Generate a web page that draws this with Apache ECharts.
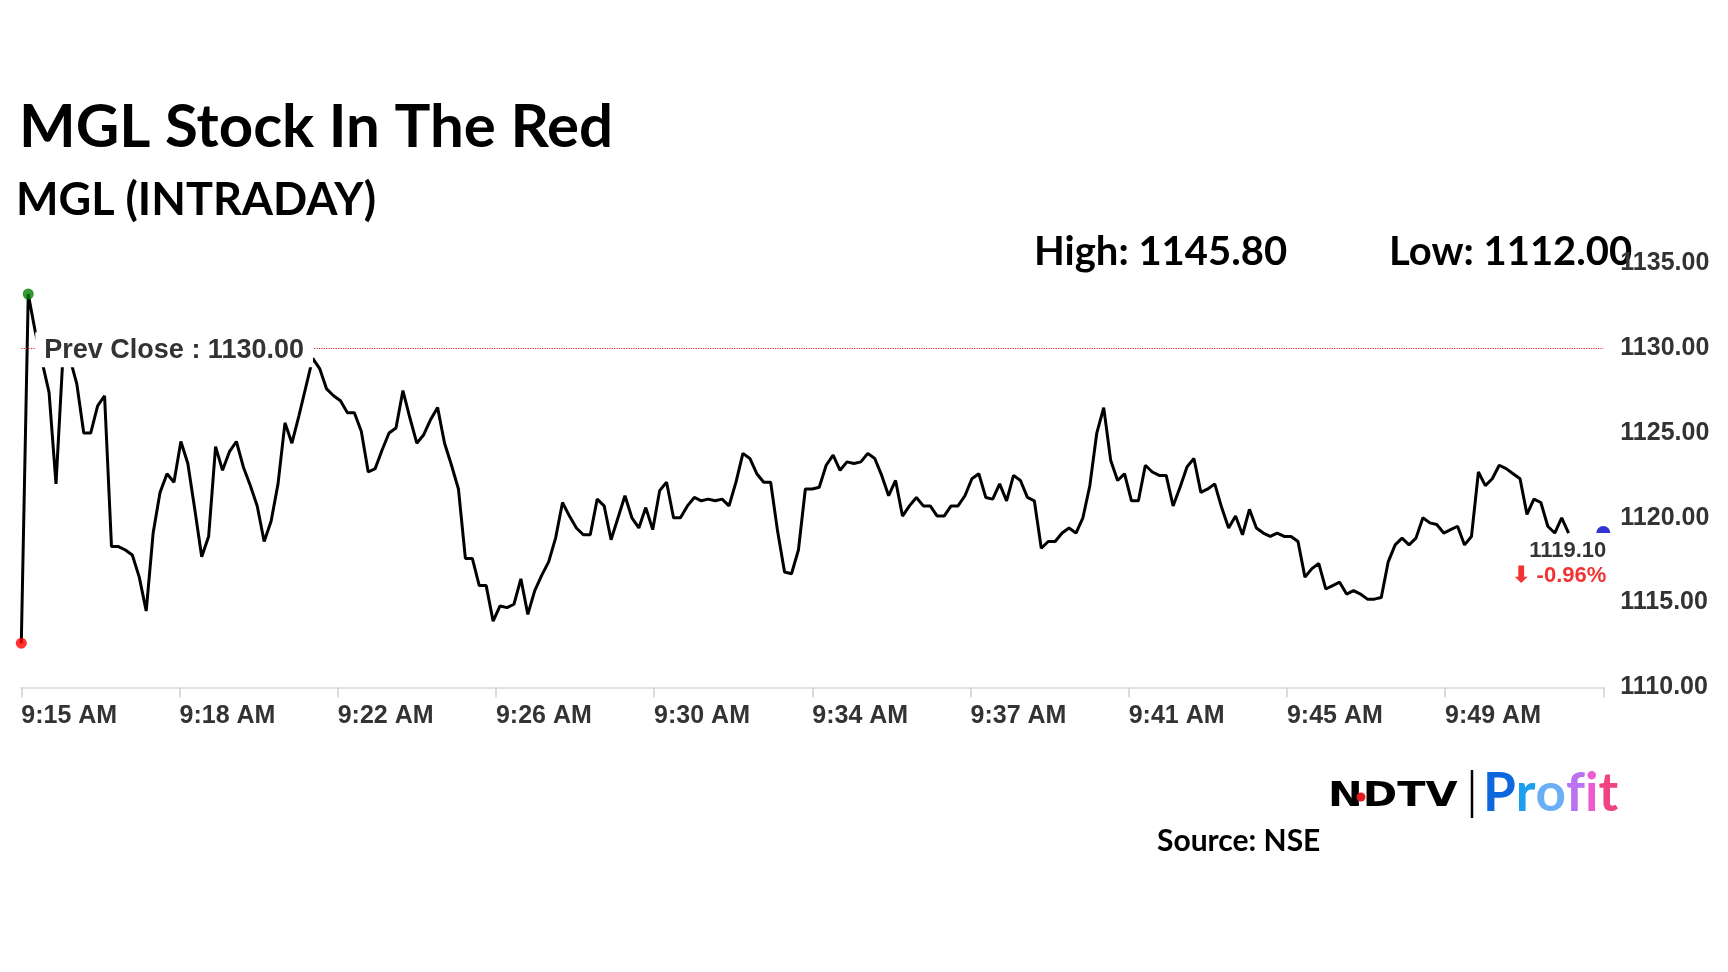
<!DOCTYPE html>
<html>
<head>
<meta charset="utf-8">
<script src="https://cdn.jsdelivr.net/npm/echarts@6/dist/echarts.min.js"></script>
<style>
  html, body { margin: 0; padding: 0; background: #fff; }
  #chart { width: 1728px; height: 972px; }
</style>
</head>
<body>
<div id="chart"></div>
<script>
// ---- data ----
const titleText = 'MGL Stock In The Red';
const subtitleText = 'MGL (INTRADAY)';
const sourceText = 'Source: NSE';
const dayHigh = 1145.80;
const dayLow = 1112.00;
const prevClose = 1130.00;
// tick labels every 228 seconds starting 9:15:00
const tickLabels = ['9:15 AM', '9:18 AM', '9:22 AM', '9:26 AM', '9:30 AM', '9:34 AM', '9:37 AM', '9:41 AM', '9:45 AM', '9:49 AM'];
const tickStepSec = 228;
const axisEndSec = 2280;
const pointStepSec = 10;
const yTicks = [1110, 1115, 1120, 1125, 1130, 1135];
// intraday prices, one every 10 seconds from 9:15:00
const prices = [
  1112.6, 1133.2, 1131.0, 1129.2, 1127.4, 1122.0, 1129.5, 1129.4, 1127.9, 1125.0,
  1125.0, 1126.6, 1127.2, 1118.3, 1118.3, 1118.1, 1117.8, 1116.5, 1114.5, 1119.1,
  1121.5, 1122.6, 1122.1, 1124.5, 1123.2, 1120.5, 1117.7, 1118.9, 1124.2, 1122.8,
  1123.9, 1124.5, 1123.0, 1121.9, 1120.7, 1118.6, 1119.8, 1122.0, 1125.6, 1124.4,
  1126.0, 1127.7, 1129.4, 1128.8, 1127.6, 1127.2, 1126.9, 1126.2, 1126.2, 1125.1,
  1122.7, 1122.9, 1124.0, 1125.0, 1125.3, 1127.5, 1125.9, 1124.4, 1124.9, 1125.8,
  1126.5, 1124.4, 1123.1, 1121.7, 1117.6, 1117.6, 1116.0, 1116.0, 1113.9, 1114.8,
  1114.7, 1114.9, 1116.4, 1114.3, 1115.7, 1116.6, 1117.4, 1118.8, 1120.9, 1120.1,
  1119.4, 1119.0, 1119.0, 1121.1, 1120.7, 1118.7, 1120.0, 1121.3, 1120.0, 1119.4,
  1120.6, 1119.3, 1121.6, 1122.1, 1120.0, 1120.0, 1120.7, 1121.2, 1121.0, 1121.1,
  1121.0, 1121.1, 1120.7, 1122.1, 1123.8, 1123.5, 1122.6, 1122.1, 1122.1, 1119.2,
  1116.8, 1116.7, 1118.1, 1121.7, 1121.7, 1121.8, 1123.1, 1123.7, 1122.8, 1123.3,
  1123.2, 1123.3, 1123.8, 1123.5, 1122.5, 1121.3, 1122.2, 1120.1, 1120.7, 1121.2,
  1120.7, 1120.7, 1120.1, 1120.1, 1120.7, 1120.7, 1121.3, 1122.3, 1122.6, 1121.2,
  1121.1, 1122.0, 1121.0, 1122.5, 1122.2, 1121.2, 1121.0, 1118.2, 1118.6, 1118.6,
  1119.1, 1119.4, 1119.1, 1120.0, 1121.9, 1125.0, 1126.5, 1123.4, 1122.2, 1122.6,
  1121.0, 1121.0, 1123.1, 1122.7, 1122.5, 1122.5, 1120.7, 1121.8, 1123.0, 1123.5,
  1121.5, 1121.7, 1122.0, 1120.6, 1119.4, 1120.1, 1119.0, 1120.5, 1119.4, 1119.1,
  1118.9, 1119.1, 1118.9, 1118.9, 1118.6, 1116.5, 1117.0, 1117.3, 1115.8, 1116.0,
  1116.2, 1115.5, 1115.7, 1115.5, 1115.2, 1115.2, 1115.3, 1117.4, 1118.4, 1118.8,
  1118.4, 1118.8, 1120.0, 1119.7, 1119.6, 1119.1, 1119.3, 1119.5, 1118.4, 1118.9,
  1122.7, 1121.9, 1122.3, 1123.1, 1122.9, 1122.6, 1122.3, 1120.2, 1121.1, 1120.9,
  1119.5, 1119.1, 1120.0, 1119.1
];

// ---- derived ----
const lineData = prices.map((v, i) => [i * pointStepSec, v]);
const minVal = Math.min(...prices);
const maxVal = Math.max(...prices);
const minIdx = prices.indexOf(minVal);
const maxIdx = prices.indexOf(maxVal);
const lastVal = prices[prices.length - 1];
const pctChange = (lastVal - prevClose) / prevClose * 100;

const axisGray = '#333';
const labelFont = 'Arial, "Liberation Sans", sans-serif';

const chart = echarts.init(document.getElementById('chart'), null, { renderer: 'canvas' });

function vText(x, baseline, text, size, extra) {
  return Object.assign({
    type: 'text', x: x, y: baseline - 0.387 * size,
    style: {
      text: text, fill: '#000', fontFamily: 'Lato', fontWeight: 'bold',
      fontSize: size, verticalAlign: 'middle', align: 'left'
    }
  }, extra || {});
}

const option = {
  animation: false,
  backgroundColor: '#fff',
  textStyle: { fontFamily: labelFont },
  grid: { left: 21.3, right: 124.7, top: 263.5, bottom: 284.7, containLabel: false },
  xAxis: {
    type: 'value',
    min: 0, max: axisEndSec, interval: tickStepSec,
    axisLine: { show: true, lineStyle: { color: '#d9d9d9', width: 1.5 } },
    axisTick: { show: true, length: 10, lineStyle: { color: '#d0d0d0', width: 1.5 } },
    splitLine: { show: false },
    axisLabel: {
      show: true, align: 'left', margin: 16,
      fontSize: 25, fontWeight: 'bold', color: axisGray, fontFamily: labelFont,
      formatter: function (v) { const k = Math.round(v / tickStepSec); return tickLabels[k] || ''; }
    }
  },
  yAxis: {
    type: 'value', position: 'right',
    min: yTicks[0], max: yTicks[yTicks.length - 1], interval: yTicks[1] - yTicks[0],
    axisLine: { show: false }, axisTick: { show: false }, splitLine: { show: false },
    axisLabel: {
      margin: 17, fontSize: 25, fontWeight: 'bold', color: axisGray, fontFamily: labelFont,
      padding: [2, 0, 0, 0],
      formatter: function (v) { return v.toFixed(2); }
    }
  },
  series: [
    {
      type: 'line', data: lineData, showSymbol: false, symbol: 'none', z: 2,
      lineStyle: { color: '#000', width: 3 },
      markLine: {
        silent: true, symbol: ['none', 'none'], z: 5,
        lineStyle: { color: '#d42a2a', type: 'dotted', width: 1.2 },
        label: {
          show: true, position: 'insideStartBottom', distance: [14, -16],
          formatter: 'Prev Close : ' + prevClose.toFixed(2),
          fontSize: 27, fontWeight: 'bold', color: axisGray, fontFamily: labelFont,
          backgroundColor: '#fff', padding: [5, 9, 3, 9]
        },
        emphasis: { disabled: true },
        data: [{ yAxis: prevClose }]
      }
    },
    {
      type: 'scatter', z: 4, symbolSize: 11, silent: true,
      data: [
        { value: [minIdx * pointStepSec, minVal], itemStyle: { color: '#ff0000' } },
        { value: [maxIdx * pointStepSec, maxVal], itemStyle: { color: '#008000' } }
      ]
    },
    {
      type: 'scatter', z: 4, silent: true,
      symbol: 'path://M0,10 A10,10 0 0 1 20,10 Z',
      symbolSize: [14, 7], symbolOffset: [0, '-50%'],
      itemStyle: { color: '#0000cc' },
      data: [[axisEndSec, lastVal]],
      label: {
        show: true, position: 'bottom', align: 'right', distance: 5, offset: [3, 0],
        fontSize: 22, fontWeight: 700, color: '#000', fontFamily: labelFont, lineHeight: 25,
        formatter: '{a|' + lastVal.toFixed(2) + '}\n{b|\u2B07 ' + pctChange.toFixed(2) + '%}',
        rich: {
          a: { fontSize: 22, fontWeight: 700, color: '#000', lineHeight: 25, align: 'right', fontFamily: labelFont },
          b: { fontSize: 22, fontWeight: 700, color: '#ee0000', lineHeight: 25, align: 'right', fontFamily: labelFont }
        }
      }
    }
  ],
  graphic: [
    vText(19, 151, titleText, 60),
    vText(16, 218, subtitleText, 45),
    vText(1034, 268, 'High: ' + dayHigh.toFixed(2), 40),
    vText(1389, 268, 'Low: ' + dayLow.toFixed(2), 40),
    vText(1157, 853, sourceText, 30),
    {
      type: 'text', x: 1328, y: 809 - 0.346 * 34, scaleX: 1.22,
      style: { text: 'NDTV', fill: '#000', fontFamily: '"DejaVu Sans"', fontWeight: 'bold', fontSize: 34, verticalAlign: 'middle', align: 'left' }
    },
    { type: 'circle', shape: { cx: 1361, cy: 797, r: 4.5 }, style: { fill: '#e21b22' }, z: 10 },
    { type: 'line', shape: { x1: 1472, y1: 770, x2: 1472, y2: 818 }, style: { stroke: '#000', lineWidth: 2.5 } },
    {
      type: 'text', x: 1483, y: 814 - 0.387 * 53,
      style: {
        text: '{p|P}{r|r}{o|o}{f|f}{i|i}{t|t}',
        fontFamily: 'Lato', fontWeight: 'bold', fontSize: 53, verticalAlign: 'middle', align: 'left',
        rich: {
          p: { fill: '#0f67de', fontFamily: 'Lato', fontWeight: 'bold', fontSize: 53 },
          r: { fill: '#1d9ff0', fontFamily: 'Lato', fontWeight: 'bold', fontSize: 53 },
          o: { fill: '#6aaef6', fontFamily: 'Lato', fontWeight: 'bold', fontSize: 53 },
          f: { fill: '#b872f2', fontFamily: 'Lato', fontWeight: 'bold', fontSize: 53 },
          i: { fill: '#ec5bd2', fontFamily: 'Lato', fontWeight: 'bold', fontSize: 53 },
          t: { fill: '#f04482', fontFamily: 'Lato', fontWeight: 'bold', fontSize: 53 }
        }
      }
    }
  ]
};
chart.setOption(option);
</script>
</body>
</html>
